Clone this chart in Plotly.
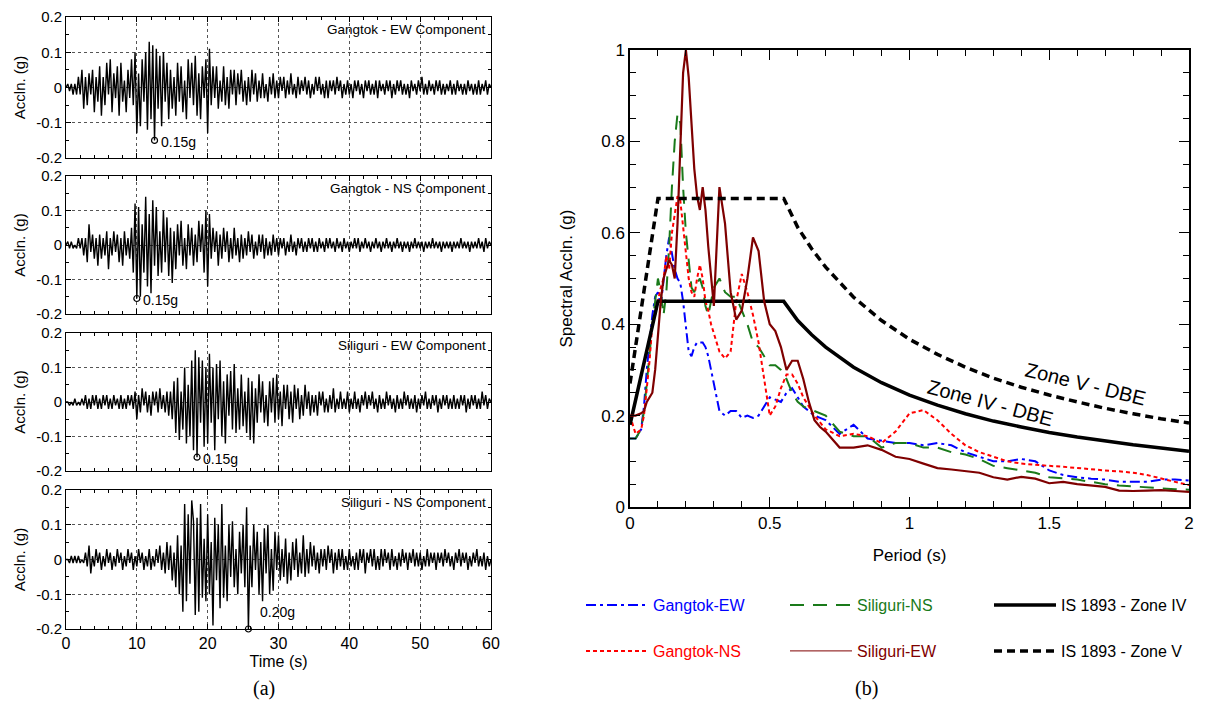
import numpy as np
import plotly.graph_objects as go

W, H = 1207, 711
FONT = "Liberation Sans, Arial, sans-serif"
SERIF = "Liberation Serif, Times New Roman, serif"

# ---- panel (a): ground motion records ----
DT = 0.25  # s between digitised samples
# accelerations in units of 0.01 g, one row = 5 s
gangtok_ew = [
    0, 1, -1, 1, -2, 1, -2, 3, -2, 5, -6, 3, -5, 4, -2, 5, -7, 3, -4, 6,
    -8, 3, -5, 7, -2, 8, -7, 4, -3, 6, -8, 7, -4, 2, -7, 5, -3, 8, -5, 10,
    -13, 4, -11, 8, -4, 10, -12, 13, -9, 12, -15, 11, -6, 9, -11, 10, -4, 7, -9, 5,
    -6, 3, -8, 7, -4, 6, -7, 2, -9, 8, -3, 7, -5, 9, -8, 4, -9, 6, -3, 8,
    -13, 11, -5, 6, -3, 6, -6, 2, -4, 6, -5, 3, -6, 5, -2, 5, -5, 4, -2, 5,
    -4, 2, -5, 3, -4, 5, -2, 4, -4, 2, -3, 4, -3, 1, -4, 3, -2, 4, -3, 2,
    -3, 3, -1, 3, -3, 2, -2, 4, -2, 1, -3, 3, -2, 2, -1, 3, -2, 2, -3, 1,
    -2, 3, -1, 3, -2, 1, -3, 2, -3, 2, -1, 2, -2, 3, -1, 2, -3, 1, -2, 2,
    -2, 1, -3, 2, -1, 2, -2, 1, -3, 2, -1, 2, -2, 1, -2, 2, -3, 2, -1, 1,
    -2, 2, -1, 2, -3, 1, -2, 2, -1, 2, -2, 1, -2, 1, -3, 2, -1, 1, -2, 2,
    -1, 3, -2, 1, -2, 2, -1, 1, -2, 2, -1, 2, -2, 1, -2, 1, -1, 2, -2, 1,
    -2, 2, -1, 1, -2, 1, -2, 2, -1, 1, -2, 1, -2, 2, -2, 1, -1, 2, -2, 1,
    0,
]
gangtok_ns = [
    0, 1, -1, 1, -1, 0, -1, 2, -1, 2, -3, 2, -5, 6, -2, 3, -4, 2, -6, 3,
    -4, 2, -3, 4, -7, 2, -3, 4, -2, 3, -5, 2, -6, 4, -3, 2, -4, 5, -8, 12,
    -15.5, 11, -15, 6, -8, 14, -12, 9, -14, 13, -6, 11, -9, 4, -8, 10, -5, 8, -9, 5,
    -11, 4, -7, 6, -3, 7, -6, 2, -7, 6, -3, 5, -6, 3, -5, 7, -2, 6, -8, 10,
    -12, 9, -4, 5, -2, 4, -6, 3, -4, 5, -2, 4, -5, 2, -4, 5, -3, 2, -5, 3,
    -4, 2, -3, 4, -2, 3, -4, 1, -3, 3, -2, 3, -4, 2, -3, 1, -3, 3, -2, 2,
    -3, 2, -1, 2, -3, 1, -2, 3, -2, 1, -3, 2, -1, 2, -2, 1, -2, 2, -1, 2,
    -2, 1, -2, 2, -1, 1, -2, 2, -1, 2, -1, 1, -2, 2, -1, 1, -2, 2, -1, 1,
    -2, 1, -1, 2, -1, 2, -2, 1, -1, 2, -1, 1, -2, 1, -1, 2, -1, 1, -2, 1,
    -1, 2, -1, 1, -2, 1, -1, 2, -1, 1, -2, 1, -1, 1, -2, 1, -1, 2, -1, 1,
    -1, 1, -2, 1, -1, 1, -1, 2, -1, 1, -1, 1, -2, 1, -1, 1, -1, 1, -2, 1,
    -1, 1, -1, 2, -1, 1, -1, 1, -2, 1, -1, 1, -1, 2, -1, 1, -2, 2, -1, 1,
    0,
]
siliguri_ew = [
    0, 0, -1, 0, -1, 1, -1, 0, -1, 1, -1, 2, -2, 1, -2, 2, -1, 2, -2, 1,
    -2, 2, -1, 2, -2, 1, -2, 2, -1, 1, -2, 2, -2, 1, -2, 2, -1, 2, -2, 3,
    -5, 2, -3, 4, -1, 3, -3, 2, -4, 3, -1, 3, -3, 4, -2, 2, -3, 3, -4, 3,
    -5, 6, -9, 7, -11, 3, -8, 10, -12, 5, -10, 12, -14, 15, -16, 13, -6, 12, -13, 10,
    -12, 14, -6, 10, -14, 11, -5, 12, -10, 6, -12, 8, -4, 9, -8, 11, -9, 4, -8, 8,
    -7, 3, -9, 7, -11, 6, -12, 4, -6, 8, -3, 6, -6, 2, -7, 6, -3, 7, -6, 8,
    -5, 3, -7, 5, -2, 5, -5, 3, -6, 5, -2, 4, -5, 2, -4, 5, -2, 3, -4, 2,
    -3, 2, -4, 3, -1, 3, -3, 1, -3, 2, -2, 4, -3, 1, -2, 3, -2, 1, -2, 3,
    -3, 1, -2, 3, -2, 1, -3, 2, -1, 3, -2, 2, -1, 3, -2, 1, -3, 2, -2, 1,
    -2, 3, -1, 2, -2, 1, -3, 2, -2, 1, -2, 3, -1, 2, -2, 1, -2, 2, -3, 1,
    -2, 2, -1, 3, -2, 1, -2, 2, -1, 2, -3, 1, -2, 2, -1, 2, -2, 1, -2, 2,
    -2, 1, -2, 2, -1, 2, -3, 1, -2, 2, -1, 2, -2, 1, -2, 3, -1, 2, -2, 1,
    0,
]
siliguri_ns = [
    0, 0, -1, 1, -1, 1, -1, 1, -1, 0, -1, 2, -2, 4, -4, 1, -2, 3, -1, 2,
    -3, 1, -2, 3, -1, 2, -3, 1, -2, 3, -1, 2, -3, 1, -2, 3, -1, 2, -3, 1,
    -2, 3, -1, 2, -3, 1, -2, 3, -3, 1, -2, 3, -1, 4, -3, 2, -4, 5, -3, 4,
    -6, 2, -8, 7, -10, 4, -15, 16, -12, 13, -7, 17, 11, -16, 12, -15, 16, -11, 6, -12,
    13, -10, 5, -19, 12, -6, 10, -14, 16, -11, 4, -12, 10, -5, 11, -8, 3, -10, 8, -4,
    10, -8, 15, -20, 4, -8, 10, -3, 8, -10, 5, -12, 9, -4, 10, -10, 3, -9, 8, -3,
    7, -6, 3, -5, 6, -7, 2, -6, 5, -3, 6, -5, 2, -4, 7, -5, 3, -4, 5, -2,
    4, -3, 2, -4, 3, -2, 3, -3, 4, -1, 3, -4, 2, -3, 3, -2, 3, -3, 1, -3,
    3, -2, 1, -3, 2, -3, 3, -1, 3, -4, 2, -1, 3, -2, 3, -3, 1, -3, 3, -2,
    3, -1, 2, -3, 3, -2, 1, -3, 2, -2, 3, -1, 2, -3, 2, -1, 3, -2, 2, -2,
    2, -3, 1, -2, 3, -2, 2, -1, 2, -3, 2, -1, 2, -2, 3, -1, 2, -2, 1, -3,
    2, -1, 3, -2, 2, -1, 2, -3, 1, -2, 2, -1, 3, -2, 1, -2, 2, -3, 1, -2,
    0,
]
record_titles = ["Gangtok - EW Component", "Gangtok - NS Component",
                 "Siliguri - EW Component", "Siliguri - NS Component"]
peak_labels = ["0.15g", "0.15g", "0.15g", "0.20g"]
acc_ticks = [-0.2, -0.1, 0, 0.1, 0.2]
acc_tick_text = ["-0.2", "-0.1", "0", "0.1", "0.2"]

# ---- panel (b): response spectra ----
period = [0.00, 0.02, 0.04, 0.05, 0.06, 0.07, 0.08, 0.09,
          0.10, 0.11, 0.12, 0.13, 0.14, 0.15, 0.16, 0.17, 0.18, 0.19, 0.20,
          0.21, 0.22, 0.23, 0.24, 0.25, 0.26, 0.27, 0.28, 0.29, 0.30,
          0.32, 0.34, 0.36, 0.38, 0.40, 0.42, 0.44, 0.46, 0.48, 0.50,
          0.52, 0.54, 0.56, 0.58, 0.60, 0.62, 0.64, 0.66, 0.68, 0.70,
          0.75, 0.80, 0.85, 0.90, 0.95, 1.00, 1.05, 1.10, 1.15, 1.20,
          1.25, 1.30, 1.35, 1.40, 1.45, 1.50, 1.55, 1.60, 1.65, 1.70,
          1.75, 1.80, 1.85, 1.90, 1.95, 2.00]
sa_gangtok_ew = [0.15, 0.15, 0.17, 0.22, 0.30, 0.36, 0.42, 0.46,
                 0.47, 0.44, 0.50, 0.55, 0.59, 0.55, 0.52, 0.50, 0.49, 0.45, 0.40,
                 0.34, 0.33, 0.35, 0.36, 0.36, 0.36, 0.35, 0.33, 0.30, 0.27,
                 0.21, 0.20, 0.21, 0.21, 0.195, 0.20, 0.195, 0.20, 0.22, 0.24,
                 0.235, 0.23, 0.25, 0.26, 0.24, 0.22, 0.21, 0.20, 0.195, 0.19,
                 0.16, 0.18, 0.15, 0.145, 0.14, 0.14, 0.135, 0.14, 0.135, 0.12,
                 0.11, 0.10, 0.10, 0.105, 0.10, 0.08, 0.07, 0.065, 0.062, 0.06,
                 0.055, 0.055, 0.055, 0.06, 0.06, 0.058]
sa_gangtok_ns = [0.20, 0.16, 0.17, 0.20, 0.26, 0.32, 0.40, 0.42,
                 0.45, 0.48, 0.50, 0.55, 0.52, 0.60, 0.64, 0.68, 0.67, 0.61, 0.55,
                 0.50, 0.47, 0.46, 0.50, 0.53, 0.50, 0.45, 0.43, 0.40, 0.38,
                 0.34, 0.325, 0.34, 0.45, 0.51, 0.47, 0.42, 0.36, 0.28, 0.20,
                 0.22, 0.26, 0.29, 0.29, 0.27, 0.24, 0.22, 0.20, 0.185, 0.17,
                 0.155, 0.16, 0.155, 0.14, 0.165, 0.205, 0.212, 0.19, 0.16, 0.135,
                 0.12, 0.11, 0.10, 0.095, 0.092, 0.09, 0.088, 0.085, 0.082, 0.08,
                 0.078, 0.075, 0.07, 0.062, 0.055, 0.048]
sa_siliguri_ns = [0.15, 0.15, 0.17, 0.21, 0.27, 0.34, 0.40, 0.45,
                  0.50, 0.47, 0.42, 0.47, 0.57, 0.70, 0.80, 0.86, 0.84, 0.70, 0.60,
                  0.54, 0.48, 0.47, 0.49, 0.50, 0.48, 0.44, 0.42, 0.45, 0.48,
                  0.50, 0.47, 0.46, 0.46, 0.43, 0.40, 0.36, 0.35, 0.33, 0.31,
                  0.31, 0.30, 0.28, 0.25, 0.23, 0.22, 0.215, 0.21, 0.205, 0.20,
                  0.165, 0.155, 0.155, 0.13, 0.14, 0.14, 0.13, 0.13, 0.12, 0.115,
                  0.105, 0.09, 0.085, 0.08, 0.075, 0.065, 0.062, 0.06, 0.055, 0.05,
                  0.047, 0.045, 0.042, 0.04, 0.039, 0.038]
sa_siliguri_ew = [0.20, 0.20, 0.205, 0.21, 0.23, 0.24, 0.25, 0.30,
                  0.37, 0.45, 0.50, 0.52, 0.54, 0.53, 0.50, 0.62, 0.80, 0.95, 1.00,
                  0.94, 0.84, 0.74, 0.68, 0.65, 0.70, 0.65, 0.57, 0.50, 0.44,
                  0.70, 0.62, 0.47, 0.41, 0.43, 0.50, 0.59, 0.56, 0.45, 0.40,
                  0.385, 0.35, 0.30, 0.32, 0.32, 0.28, 0.23, 0.19, 0.175, 0.165,
                  0.13, 0.13, 0.135, 0.125, 0.11, 0.105, 0.095, 0.085, 0.082, 0.078,
                  0.075, 0.065, 0.06, 0.066, 0.062, 0.052, 0.055, 0.05, 0.047, 0.044,
                  0.036, 0.035, 0.036, 0.037, 0.035, 0.033]

period_code = [0.0, 0.1, 0.55, 0.6, 0.65, 0.7, 0.8, 0.9, 1.0, 1.1, 1.2, 1.3,
               1.4, 1.5, 1.6, 1.7, 1.8, 1.9, 2.0]
sa_zone4 = [0.18, 0.45, 0.45, 0.408, 0.377, 0.35, 0.306, 0.272, 0.245, 0.223,
            0.204, 0.188, 0.175, 0.163, 0.153, 0.144, 0.136, 0.129, 0.122]
sa_zone5 = [0.27, 0.675, 0.675, 0.612, 0.565, 0.525, 0.459, 0.408, 0.367, 0.334,
            0.306, 0.282, 0.262, 0.245, 0.230, 0.216, 0.204, 0.193, 0.184]


def dom_x(a, b):
    return [a / W, b / W]


def dom_y(top, bottom):
    return [1 - bottom / H, 1 - top / H]


fig = go.Figure()

# left panels, pixel boxes (top, bottom)
left_rows = [(9, 150), (168, 306), (325, 463), (482, 621)]
records = [gangtok_ew, gangtok_ns, siliguri_ew, siliguri_ns]
layout_axes = {}
annotations = []

for i, rec in enumerate(records):
    n = i + 1
    xa = "x" if n == 1 else f"x{n}"
    ya = "y" if n == 1 else f"y{n}"
    acc = np.array(rec) / 100.0
    t = np.arange(len(acc)) * DT
    fig.add_trace(go.Scatter(x=t, y=acc, mode="lines", xaxis=xa, yaxis=ya,
                             line=dict(color="black", width=1.4), showlegend=False,
                             hoverinfo="skip"))
    k = int(np.argmax(np.abs(acc)))
    fig.add_trace(go.Scatter(x=[t[k]], y=[acc[k]], mode="markers", xaxis=xa, yaxis=ya,
                             marker=dict(symbol="circle-open", size=6, color="black",
                                         line=dict(width=1.2)),
                             cliponaxis=False, showlegend=False))
    if i == 3:
        annotations.append(dict(x=t[k], y=acc[k], xref=xa, yref=ya, text=peak_labels[i],
                                showarrow=False, xanchor="left", yanchor="middle",
                                xshift=10, yshift=17, font=dict(size=14)))
    else:
        annotations.append(dict(x=t[k], y=acc[k], xref=xa, yref=ya, text=peak_labels[i],
                                showarrow=False, xanchor="left", yanchor="middle",
                                xshift=4, yshift=-2, font=dict(size=14)))
    annotations.append(dict(x=60, y=0.2, xref=xa, yref=ya, text=record_titles[i],
                            showarrow=False, xanchor="right", yanchor="top",
                            xshift=-3, yshift=-3, font=dict(size=13.5)))

    top, bottom = left_rows[i]
    layout_axes["xaxis" if n == 1 else f"xaxis{n}"] = dict(
        domain=dom_x(58, 483), anchor=ya, range=[0, 60], tick0=0, dtick=10,
        ticks="inside", ticklen=5, tickcolor="black", mirror="ticks",
        showline=True, linecolor="black", linewidth=1,
        showgrid=True, gridcolor="#555", griddash="dot", gridwidth=1, zeroline=False,
        showticklabels=(n == 4), tickfont=dict(size=16),
        minor=dict(tickmode="linear", tick0=0, dtick=2, ticks="inside", ticklen=3,
                   tickcolor="black", showgrid=False),
        title=dict(text="Time (s)" if n == 4 else "", font=dict(size=16), standoff=4),
    )
    layout_axes["yaxis" if n == 1 else f"yaxis{n}"] = dict(
        domain=dom_y(top, bottom), anchor=xa, range=[-0.2, 0.2],
        tickmode="array", tickvals=acc_ticks, ticktext=acc_tick_text,
        ticks="inside", ticklen=5, tickcolor="black", mirror="ticks",
        showline=True, linecolor="black", linewidth=1,
        showgrid=True, gridcolor="#555", griddash="dot", gridwidth=1, zeroline=False,
        tickfont=dict(size=15),
        minor=dict(tickmode="linear", tick0=0, dtick=0.05, ticks="inside", ticklen=3,
                   tickcolor="black", showgrid=False),
        title=dict(text="Accln. (g)", font=dict(size=15), standoff=6),
    )

# right panel: response spectra
spectra = [
    ("Gangtok-EW", sa_gangtok_ew, "#0000ff", "10px,4px,3px,4px", "legend"),
    ("Siliguri-NS", sa_siliguri_ns, "#1a7a1a", "14px,9px", "legend"),
    ("Gangtok-NS", sa_gangtok_ns, "#ff0000", "4px,3px", "legend2"),
]
for name, sa, color, dash, lg in spectra:
    fig.add_trace(go.Scatter(
        x=period, y=sa, mode="lines", xaxis="x5", yaxis="y5", legend=lg,
        name=f'<span style="color:{color}">{name}</span>',
        line=dict(color=color, width=2, dash=dash)))

fig.add_trace(go.Scatter(x=period_code, y=sa_zone4, mode="lines", xaxis="x5", yaxis="y5",
                         legend="legend", name="IS 1893 - Zone IV",
                         line=dict(color="black", width=3.5)))
# Siliguri-EW: thick in the plot, thin in the key
fig.add_trace(go.Scatter(x=period, y=sa_siliguri_ew, mode="lines", xaxis="x5", yaxis="y5",
                         showlegend=False, line=dict(color="#7f0000", width=2.2)))
fig.add_trace(go.Scatter(x=[None], y=[None], mode="lines", xaxis="x5", yaxis="y5",
                         legend="legend2",
                         name='<span style="color:#7f0000">Siliguri-EW</span>',
                         line=dict(color="#7f0000", width=1)))
fig.add_trace(go.Scatter(x=period_code, y=sa_zone5, mode="lines", xaxis="x5", yaxis="y5",
                         legend="legend2", name="IS 1893 - Zone V",
                         line=dict(color="black", width=3.5, dash="8px,5px")))

layout_axes["xaxis5"] = dict(
    domain=dom_x(622, 1181), anchor="y5", range=[0, 2], tick0=0, dtick=0.5,
    ticks="inside", ticklen=10, tickcolor="black", mirror="ticks",
    showline=True, linecolor="black", linewidth=1.5, showgrid=False, zeroline=False,
    tickfont=dict(size=17),
    minor=dict(tickmode="linear", tick0=0, dtick=0.1, ticks="inside", ticklen=6,
               tickcolor="black", showgrid=False),
    title=dict(text="Period (s)", font=dict(size=17), standoff=17),
)
layout_axes["yaxis5"] = dict(
    domain=dom_y(42, 499), anchor="x5", range=[0, 1], tick0=0, dtick=0.2,
    ticks="inside", ticklen=10, tickcolor="black", mirror="ticks",
    showline=True, linecolor="black", linewidth=1.5, showgrid=False, zeroline=False,
    tickfont=dict(size=17),
    minor=dict(tickmode="linear", tick0=0, dtick=0.05, ticks="inside", ticklen=6,
               tickcolor="black", showgrid=False),
    title=dict(text="Spectral Accln. (g)", font=dict(size=17), standoff=24),
)

annotations += [
    dict(x=1.63, y=0.27, xref="x5", yref="y5", text="Zone V - DBE", showarrow=False,
         textangle=14, font=dict(size=20)),
    dict(x=1.29, y=0.228, xref="x5", yref="y5", text="Zone IV - DBE", showarrow=False,
         textangle=15, font=dict(size=20)),
    dict(x=243 / W, y=1 - 694 / H, xref="paper", yref="paper", text="(a)", showarrow=False,
         font=dict(family=SERIF, size=20)),
    dict(x=872 / W, y=1 - 694 / H, xref="paper", yref="paper", text="(b)", showarrow=False,
         font=dict(family=SERIF, size=20)),
]

legend_common = dict(orientation="h", xanchor="left", yanchor="middle",
                     entrywidth=127, entrywidthmode="pixels", itemwidth=62,
                     font=dict(size=16, color="black"), bgcolor="rgba(0,0,0,0)",
                     traceorder="normal")

fig.update_layout(
    width=W, height=H,
    margin=dict(l=0, r=0, t=0, b=0, autoexpand=False),
    paper_bgcolor="white", plot_bgcolor="white",
    font=dict(family=FONT, color="black"),
    annotations=annotations,
    legend=dict(x=573 / W, y=1 - 597 / H, **legend_common),
    legend2=dict(x=573 / W, y=1 - 643 / H, **legend_common),
    **layout_axes,
)

fig.write_html("out.html")
